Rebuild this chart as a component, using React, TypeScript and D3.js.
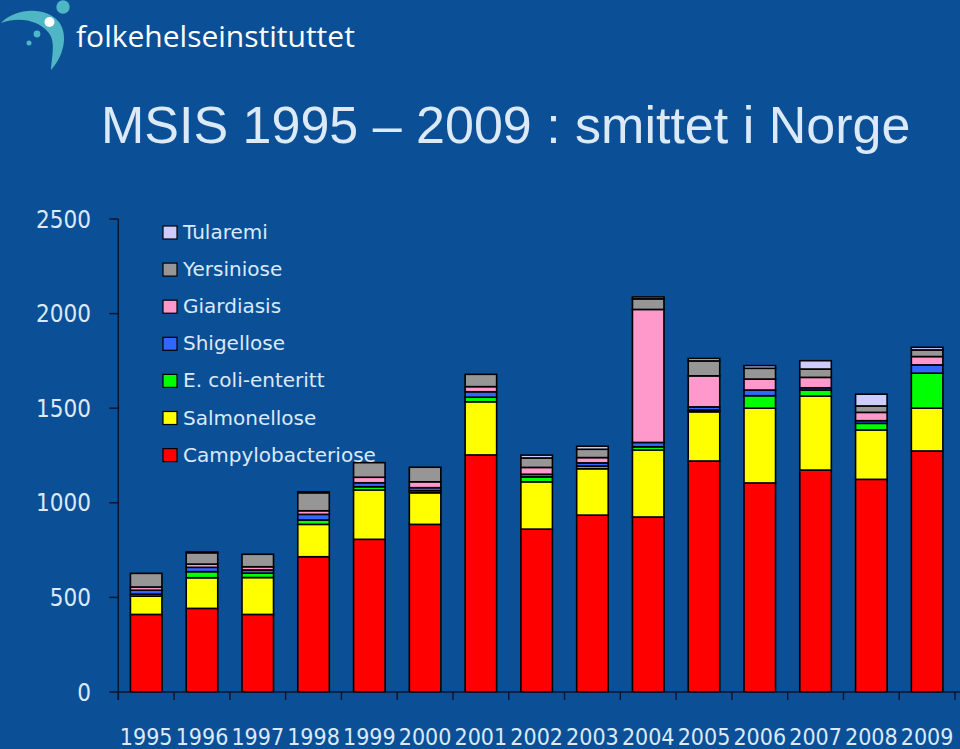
import React from "react";
import * as d3 from "d3";

const years = ["1995","1996","1997","1998","1999","2000","2001","2002","2003","2004","2005","2006","2007","2008","2009"];
const campylobacteriose = [410, 442, 410, 715, 807, 886, 1253, 861, 935, 925, 1221, 1105, 1173, 1124, 1274];
const salmonellose = [97, 162, 195, 171, 261, 167, 281, 250, 245, 354, 260, 395, 391, 261, 226];
const ecoliEnteritt = [10, 32, 23, 23, 17, 11, 24, 26, 14, 17, 9, 66, 32, 35, 185];
const shigellose = [21, 23, 17, 30, 21, 16, 29, 14, 17, 23, 17, 30, 12, 14, 44];
const giardiasis = [17, 17, 17, 19, 29, 31, 27, 36, 28, 703, 164, 58, 55, 44, 44];
const yersiniose = [72, 60, 66, 95, 77, 77, 65, 50, 44, 56, 79, 57, 44, 34, 35];
const tularemi = [0, 4, 0, 5, 0, 0, 0, 15, 16, 10, 13, 14, 44, 62, 14];
const yTicks = [0, 500, 1000, 1500, 2000, 2500];

const seriesNames = ["Campylobacteriose", "Salmonellose", "E. coli-enteritt", "Shigellose", "Giardiasis", "Yersiniose", "Tularemi"];
const seriesValues = [campylobacteriose, salmonellose, ecoliEnteritt, shigellose, giardiasis, yersiniose, tularemi];
const seriesColors = ["#ff0000", "#ffff00", "#00ff00", "#3366ff", "#ff99cc", "#969696", "#ccccff"];

const BG = "#0b5097";
const TXT = "#dce9f7";
const AXIS = "#0a1633";

export default function App() {
  const width = 960, height = 749;
  const x0 = 118.3, x1 = 955, yBase = 692, yTop = 219;

  const table = years.map((yr, i) => {
    const row: any = { year: yr };
    seriesNames.forEach((k, j) => (row[k] = seriesValues[j][i]));
    return row;
  });
  const stacked = d3.stack<any>().keys(seriesNames)(table);

  const x = d3.scaleBand<string>().domain(years).range([x0, x1]).paddingInner(0.435).paddingOuter(0.2175);
  const y = d3.scaleLinear().domain([0, 2500]).range([yBase, yTop]);
  const step = x.step();
  const boundaries = d3.range(years.length + 1).map((i) => x0 + i * step);

  const legendOrder = [...seriesNames].reverse();

  return (
    <svg width={width} height={height} style={{ position: "absolute", left: 0, top: 0, background: BG }}>
      <rect x={0} y={0} width={width} height={height} fill={BG} />
      {/* logo */}
      <g>
        <path d="M1,23 C14,9 45,5 59,22 C69,36 63,57 51,70 C52,55 56,41 48,32 C39,21 20,16 1,23 Z" fill="#4fb6c6" />
        <circle cx={63} cy={7} r={6.7} fill="#4fb6c6" />
        <circle cx={49.5} cy={22} r={5} fill="#ffffff" />
        <circle cx={37} cy={34} r={3.4} fill="#4fb6c6" />
        <circle cx={29} cy={43} r={2.5} fill="#4fb6c6" />
        <text x={76} y={47} fill="#ffffff" fontFamily="'Open Sans', sans-serif" fontSize={30}>folkehelseinstituttet</text>
      </g>
      {/* title */}
      <text x={101} y={143} fill={TXT} fontFamily="'Liberation Sans', Arial, sans-serif" fontSize={52}>
        MSIS 1995 – 2009 : smittet i Norge
      </text>

      {/* bars */}
      {stacked.map((s, j) => (
        <g key={s.key} fill={seriesColors[j]}>
          {s.map((d, i) =>
            d[1] - d[0] > 0 ? (
              <rect
                key={i}
                x={x(years[i])}
                y={y(d[1])}
                width={x.bandwidth()}
                height={y(d[0]) - y(d[1])}
                stroke="#000"
                strokeWidth={1.6}
              />
            ) : null
          )}
        </g>
      ))}

      {/* y axis */}
      <line x1={x0} x2={x0} y1={yTop} y2={yBase + 8} stroke={AXIS} strokeWidth={1.5} />
      {yTicks.map((t) => (
        <g key={t}>
          <line x1={x0 - 9} x2={x0} y1={y(t)} y2={y(t)} stroke={AXIS} strokeWidth={1.5} />
          <text x={91} y={y(t)} dy="0.36em" textAnchor="end" fill={TXT}
            fontFamily="'DejaVu Sans Condensed', 'DejaVu Sans', sans-serif" fontSize={24}>{t}</text>
        </g>
      ))}
      {/* x axis */}
      <line x1={x0} x2={width} y1={yBase} y2={yBase} stroke={AXIS} strokeWidth={1.5} />
      {boundaries.map((b, i) => (
        <line key={i} x1={b} x2={b} y1={yBase} y2={yBase + 8} stroke={AXIS} strokeWidth={1.5} />
      ))}
      {years.map((yr) => (
        <text key={yr} x={(x(yr) as number) + x.bandwidth() / 2} y={745} textAnchor="middle" fill={TXT}
          fontFamily="'DejaVu Sans Condensed', 'DejaVu Sans', sans-serif" fontSize={23}>{yr}</text>
      ))}

      {/* legend */}
      {legendOrder.map((name, i) => {
        const j = seriesNames.indexOf(name);
        const ly = 226 + i * 37.1;
        return (
          <g key={name}>
            <rect x={163} y={ly} width={14} height={13} fill={seriesColors[j]} stroke="#000" strokeWidth={1.2} />
            <text x={183} y={ly + 13} fill={TXT} fontFamily="'DejaVu Sans', sans-serif" fontSize={20}>{name}</text>
          </g>
        );
      })}
    </svg>
  );
}
